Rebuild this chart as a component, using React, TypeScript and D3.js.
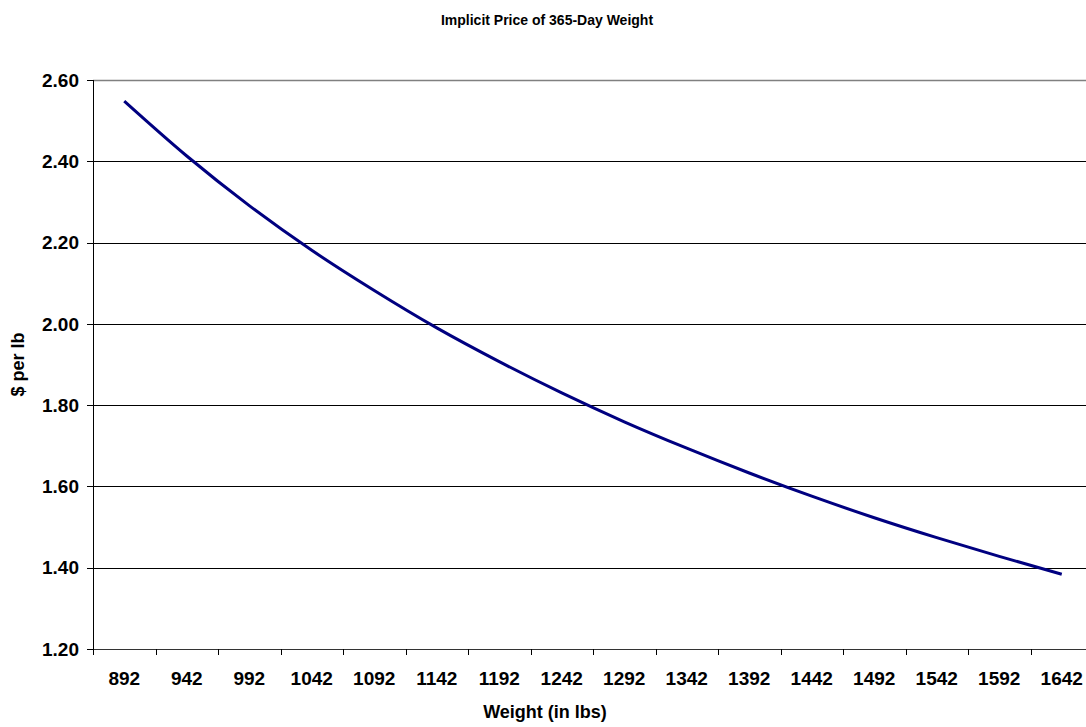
import React from "react";
import * as d3 from "d3";

// categories and values
const weights = [892, 942, 992, 1042, 1092, 1142, 1192, 1242, 1292, 1342, 1392, 1442, 1492, 1542, 1592, 1642];
const prices = [2.548, 2.413, 2.291, 2.181, 2.082, 1.99, 1.907, 1.83, 1.759, 1.694, 1.633, 1.576, 1.523, 1.474, 1.428, 1.384];
const yTicks = [1.2, 1.4, 1.6, 1.8, 2.0, 2.2, 2.4, 2.6];

const W = 1086;
const H = 727;
const margin = { top: 80, right: -7, bottom: 78, left: 93 };
const font = "'Liberation Sans', Arial, sans-serif";

export default function App() {
  const x = d3
    .scaleBand<number>()
    .domain(weights)
    .range([margin.left, W - margin.right])
    .padding(0);
  const y = d3
    .scaleLinear()
    .domain([1.2, 2.6])
    .range([H - margin.bottom, margin.top]);

  const pts: [number, number][] = weights.map((w, i) => [x(w)! + x.bandwidth() / 2, y(prices[i])]);
  const path = d3.line().curve(d3.curveMonotoneX)(pts) || "";

  const bottom = y(1.2);
  const left = margin.left;
  const right = W - margin.right;

  return (
    <svg
      width={W}
      height={H}
      style={{ position: "absolute", left: 0, top: 0, background: "white" }}
      fontFamily={font}
      fontWeight="bold"
    >
      <text x={547} y={25} textAnchor="middle" fontSize={14}>
        Implicit Price of 365-Day Weight
      </text>

      {/* gridlines */}
      {yTicks.slice(1).map((t, i) => (
        <line
          key={"g" + i}
          x1={left}
          x2={right}
          y1={Math.round(y(t)) + 0.5}
          y2={Math.round(y(t)) + 0.5}
          stroke={t === 2.6 ? "#808080" : "#000"}
          strokeWidth={t === 2.6 ? 1.5 : 1}
        />
      ))}

      {/* y axis */}
      <line x1={left + 0.5} x2={left + 0.5} y1={margin.top} y2={bottom + 6} stroke="#000" />
      {yTicks.map((t, i) => (
        <g key={"y" + i}>
          <line x1={left - 6} x2={left} y1={Math.round(y(t)) + 0.5} y2={Math.round(y(t)) + 0.5} stroke="#000" />
          <text x={79} y={y(t)} dy="0.35em" textAnchor="end" fontSize={19}>
            {t.toFixed(2)}
          </text>
        </g>
      ))}

      {/* x axis */}
      <line x1={left} x2={right} y1={Math.round(bottom) + 0.5} y2={Math.round(bottom) + 0.5} stroke="#333" />
      {weights.map((w, i) => (
        <g key={"x" + i}>
          <line
            x1={Math.round(x(w)!) + 0.5}
            x2={Math.round(x(w)!) + 0.5}
            y1={bottom}
            y2={bottom + 6}
            stroke="#000"
          />
          <text x={x(w)! + x.bandwidth() / 2} y={685} textAnchor="middle" fontSize={19}>
            {w}
          </text>
        </g>
      ))}

      <path d={path} fill="none" stroke="#000080" strokeWidth={3} />

      <text x={545} y={718} textAnchor="middle" fontSize={18}>
        Weight (in lbs)
      </text>
      <text transform={`translate(24,${(margin.top + bottom) / 2}) rotate(-90)`} textAnchor="middle" fontSize={18}>
        $ per lb
      </text>
    </svg>
  );
}
